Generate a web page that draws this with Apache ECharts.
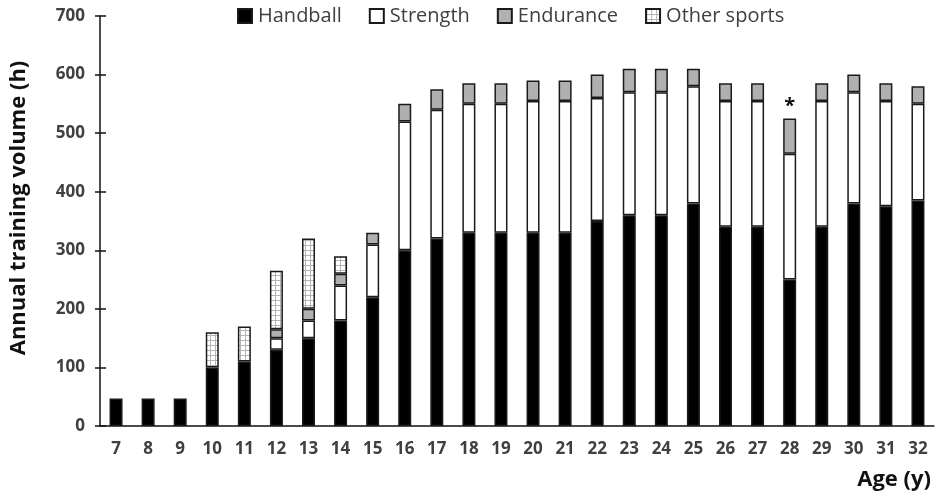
<!DOCTYPE html>
<html><head><meta charset="utf-8">
<script src="https://cdn.jsdelivr.net/npm/echarts@6/dist/echarts.min.js"></script>
<style>html,body{margin:0;padding:0;background:#fff}#c{width:944px;height:499px}</style>
</head><body><div id="c"></div>
<script>
const ages = ['7','8','9','10','11','12','13','14','15','16','17','18','19','20','21','22','23','24','25','26','27','28','29','30','31','32'];
const handball = [47,47,47,100,110,130,150,180,220,300,320,330,330,330,330,350,360,360,380,340,340,250,340,380,375,385];
const strength = [null,null,null,null,null,20,30,60,90,220,220,220,220,225,225,210,210,210,200,215,215,215,215,190,180,165];
const endurance = [null,null,null,null,null,15,20,20,20,30,35,35,35,35,35,40,40,40,30,30,30,60,30,30,30,30];
const otherSports = [null,null,null,60,60,100,120,30,null,null,null,null,null,null,null,null,null,null,null,null,null,null,null,null,null,null];
const marks = {'28':'*'};

const pc = document.createElement('canvas');
pc.width = 5; pc.height = 5;
const g = pc.getContext('2d');
g.fillStyle = '#ffffff'; g.fillRect(0,0,5,5);
g.fillStyle = '#b4b4b4'; g.fillRect(0,0,5,1); g.fillRect(0,0,1,5);
const pattern = {image: pc, repeat: 'repeat'};

const font = '"Open Sans", "DejaVu Sans", sans-serif';
const border = {borderColor:'#1a1a1a', borderWidth:1.5};
const bw = 13;

function withMarks(arr){
  return arr.map((v,i)=> marks[ages[i]] ? {value:v, label:{show:true, position:'top', formatter:marks[ages[i]], fontSize:20, fontWeight:'bold', color:'#111', distance:2, fontFamily:font}} : v);
}

const chart = echarts.init(document.getElementById('c'));
chart.setOption({
  animation:false,
  backgroundColor:'#fff',
  title:{text:'Age (y)', right:8, bottom:3, textStyle:{fontFamily:font, fontSize:22, fontWeight:'bold', color:'#111'}},
  legend:{top:1, left:232, itemWidth:14, itemHeight:14, itemGap:27, icon:'rect',
    textStyle:{fontFamily:font, fontSize:20, color:'#404040', padding:[0,0,0,1]},
    data:['Handball','Strength','Endurance','Other sports']},
  grid:{left:98, right:10, top:16, bottom:73, containLabel:false},
  xAxis:{type:'category', data:ages,
    axisLine:{lineStyle:{color:'#111', width:1.5}},
    axisTick:{show:false},
    axisLabel:{fontFamily:font, fontSize:17, fontWeight:'bold', color:'#404040', margin:15}},
  yAxis:[
    {type:'value', min:0, max:700, interval:100,
     name:'Annual training volume (h)', nameLocation:'middle', nameGap:70,
     nameTextStyle:{fontFamily:font, fontSize:22, fontWeight:'bold', color:'#111', padding:[0,0,0,26]},
     axisLine:{show:true, lineStyle:{color:'#111', width:1.5}},
     axisTick:{show:true, length:5, lineStyle:{color:'#111', width:1.5}},
     axisLabel:{fontFamily:font, fontSize:17, fontWeight:'bold', color:'#404040', margin:15},
     splitLine:{show:false}},
    {type:'value', min:0, max:700, interval:100, position:'left',
     axisLine:{show:false}, axisLabel:{show:false}, splitLine:{show:false},
     axisTick:{show:true, inside:true, length:6, lineStyle:{color:'#111', width:1.5}}}
  ],
  series:[
    {name:'Handball', type:'bar', stack:'t', barWidth:bw, data:handball, itemStyle:Object.assign({color:'#000'},border)},
    {name:'Strength', type:'bar', stack:'t', barWidth:bw, data:strength, itemStyle:Object.assign({color:'#fff'},border)},
    {name:'Endurance', type:'bar', stack:'t', barWidth:bw, data:withMarks(endurance), itemStyle:Object.assign({color:'#b0b0b0'},border)},
    {name:'Other sports', type:'bar', stack:'t', barWidth:bw, data:otherSports, itemStyle:Object.assign({color:pattern},border)}
  ]
});
</script></body></html>
